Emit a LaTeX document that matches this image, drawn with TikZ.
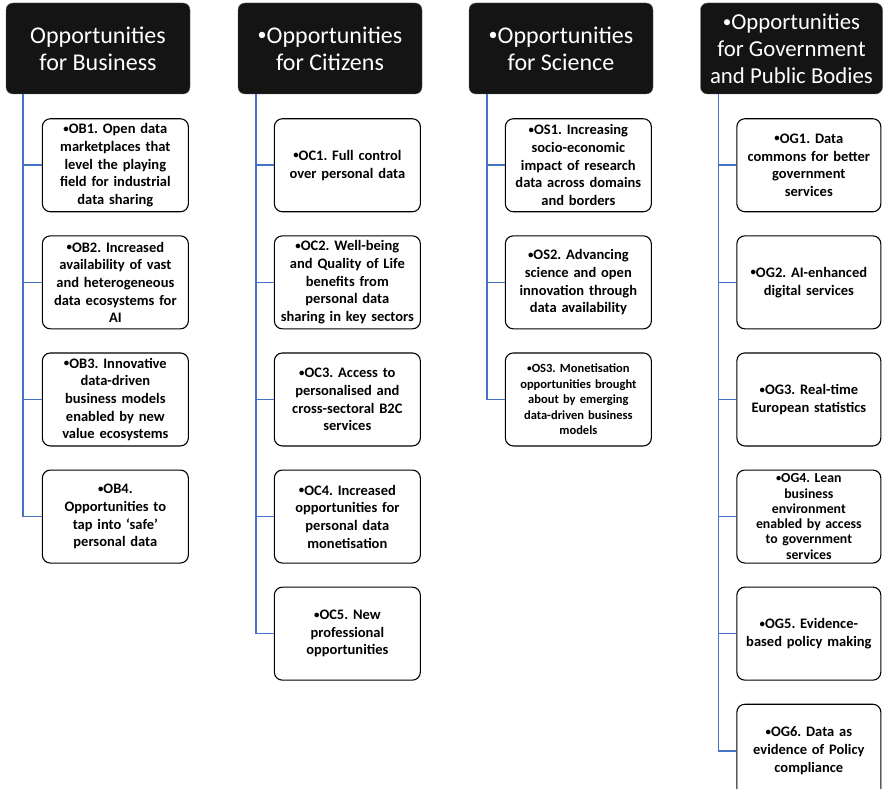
\documentclass[tikz,border=0pt]{standalone}
\usepackage{fontspec}
\setmainfont{Carlito}
\usepackage{tikz}
\usetikzlibrary{positioning}
\usepackage{xcolor}
\definecolor{azul}{RGB}{68,114,196}
\newcommand{\punto}{\raisebox{0.2ex}{\scalebox{0.75}{•}}}
\frenchspacing

\begin{document}
\begin{tikzpicture}[
  x=1pt, y=1pt,
  node distance=23pt,
  cabeza/.style={rectangle, rounded corners=7pt, draw=black!65, fill=black!92, text=white, align=center, minimum width=184pt, minimum height=91pt, inner sep=2pt, font=\fontsize{24}{27}\selectfont},
  caja/.style={rectangle, rounded corners=8pt, draw, line width=1.1pt, fill=white, align=center, text width=142pt, minimum height=93pt, inner sep=2pt, font=\bfseries\fontsize{14.5}{17.7}\selectfont},
  rama/.style={draw=azul, line width=1.6pt}
]
\useasboundingbox (0,0) rectangle (884,-789);

% cabeceras
\node[cabeza] (neg) at (98,-48.5) {Opportunities\\for Business};
\node[cabeza] (ciu) at (330,-48.5) {\punto Opportunities\\for Citizens};
\node[cabeza] (cie) at (561,-48.5) {\punto Opportunities\\for Science};
\node[cabeza, minimum width=182pt, font=\fontsize{22.8}{27}\selectfont] (gob) at (791.5,-48.5) {\punto Opportunities\\for Government\\and Public Bodies};

% negocio
\node[caja, below right=24pt and 36pt of neg.south west] (ob1) {\punto OB1. Open data\\marketplaces that\\level the playing\\field for industrial\\data sharing};
\node[caja, below=of ob1] (ob2) {\punto OB2. Increased\\availability of vast\\and heterogeneous\\data ecosystems for\\AI};
\node[caja, below=of ob2] (ob3) {\punto OB3. Innovative\\data-driven\\business models\\enabled by new\\value ecosystems};
\node[caja, below=of ob3] (ob4) {\punto OB4.\\Opportunities to\\tap into ‘safe’\\personal data};

% ciudadanos
\node[caja, below right=24pt and 36pt of ciu.south west] (oc1) {\punto OC1. Full control\\over personal data};
\node[caja, below=of oc1] (oc2) {\punto OC2. Well-being\\and Quality of Life\\benefits from\\personal data\\sharing in key sectors};
\node[caja, below=of oc2] (oc3) {\punto OC3. Access to\\personalised and\\cross-sectoral B2C\\services};
\node[caja, below=of oc3] (oc4) {\punto OC4. Increased\\opportunities for\\personal data\\monetisation};
\node[caja, below=of oc4] (oc5) {\punto OC5. New\\professional\\opportunities};

% ciencia
\node[caja, below right=24pt and 36pt of cie.south west] (os1) {\punto OS1. Increasing\\socio-economic\\impact of research\\data across domains\\and borders};
\node[caja, below=of os1] (os2) {\punto OS2. Advancing\\science and open\\innovation through\\data availability};
\node[caja, below=of os2, font=\bfseries\fontsize{12.5}{15.5}\selectfont] (os3) {\punto OS3. Monetisation\\opportunities brought\\about by emerging\\data-driven business\\models};

% gobierno
\node[caja, below right=24pt and 36pt of gob.south west, text width=140pt] (og1) {\punto OG1. Data\\commons for better\\government\\services};
\node[caja, below=of og1, text width=140pt] (og2) {\punto OG2. AI-enhanced\\digital services};
\node[caja, below=of og2, text width=140pt] (og3) {\punto OG3. Real-time\\European statistics};
\node[caja, below=of og3, text width=140pt, font=\bfseries\fontsize{13.8}{15.3}\selectfont] (og4) {\punto OG4. Lean\\business\\environment\\enabled by access\\to government\\services};
\node[caja, below=of og4, text width=140pt] (og5) {\punto OG5. Evidence-\\based policy making};
\node[caja, below=of og5, text width=140pt] (og6) {\punto OG6. Data as\\evidence of Policy\\compliance};

% ramas
\draw[rama] ([xshift=17pt]neg.south west) |- (ob1.west);
\draw[rama] ([xshift=17pt]neg.south west) |- (ob2.west);
\draw[rama] ([xshift=17pt]neg.south west) |- (ob3.west);
\draw[rama] ([xshift=17pt]neg.south west) |- (ob4.west);
\draw[rama] ([xshift=18pt]ciu.south west) |- (oc1.west);
\draw[rama] ([xshift=18pt]ciu.south west) |- (oc2.west);
\draw[rama] ([xshift=18pt]ciu.south west) |- (oc3.west);
\draw[rama] ([xshift=18pt]ciu.south west) |- (oc4.west);
\draw[rama] ([xshift=18pt]ciu.south west) |- (oc5.west);
\draw[rama] ([xshift=18pt]cie.south west) |- (os1.west);
\draw[rama] ([xshift=18pt]cie.south west) |- (os2.west);
\draw[rama] ([xshift=18pt]cie.south west) |- (os3.west);
\draw[rama] ([xshift=18pt]gob.south west) |- (og1.west);
\draw[rama] ([xshift=18pt]gob.south west) |- (og2.west);
\draw[rama] ([xshift=18pt]gob.south west) |- (og3.west);
\draw[rama] ([xshift=18pt]gob.south west) |- (og4.west);
\draw[rama] ([xshift=18pt]gob.south west) |- (og5.west);
\draw[rama] ([xshift=18pt]gob.south west) |- (og6.west);
\end{tikzpicture}
\end{document}
